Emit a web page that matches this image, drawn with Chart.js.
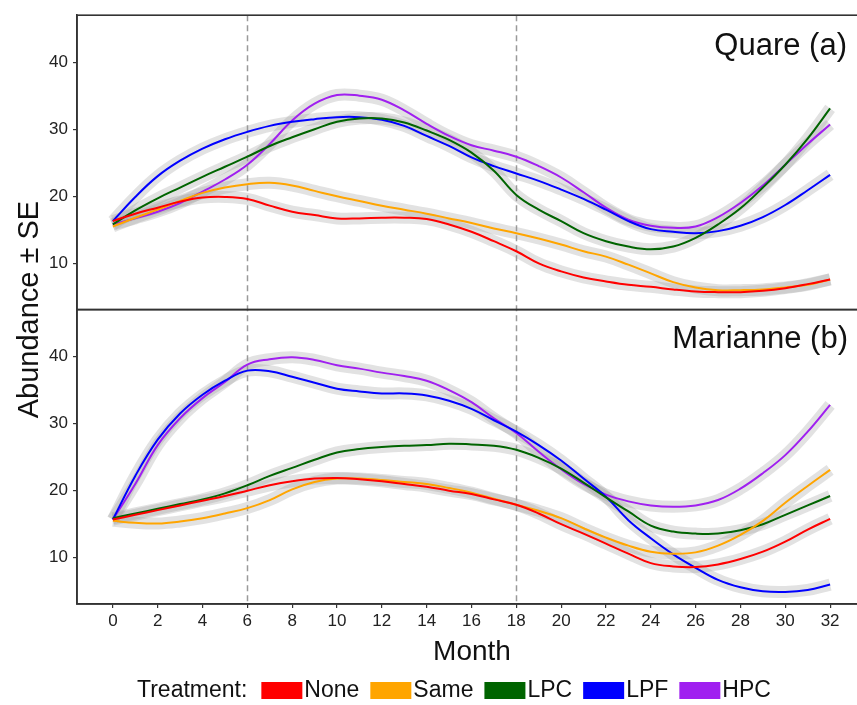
<!DOCTYPE html>
<html>
<head>
<meta charset="utf-8">
<script src="https://cdn.jsdelivr.net/npm/chart.js@4.4.1/dist/chart.umd.min.js"></script>
<style>
  html, body { margin: 0; padding: 0; background: #fff; }
</style>
</head>
<body>
<canvas id="chart" width="857" height="705"></canvas>
<script>
// months sampled along the smoothed curves
const months = [0, 1, 2, 3, 4, 5, 6, 7, 8, 9, 10, 11, 12, 13, 14, 15, 16,
                17, 18, 19, 20, 21, 22, 23, 24, 25, 26, 27, 28, 29, 30, 31, 32];
const xTicks = [0, 2, 4, 6, 8, 10, 12, 14, 16, 18, 20, 22, 24, 26, 28, 30, 32];
const yTicks = [10, 20, 30, 40];
const periodBreaks = [6, 18];

const treatments = ['None', 'Same', 'LPC', 'LPF', 'HPC'];
const colors = ['#FF0000', '#FFA500', '#006400', '#0000FF', '#A020F0'];
const siteNames = ['Quare (a)', 'Marianne (b)'];

// Quare (a)
const quareNone = [16.3, 17.4, 18.3, 19.2, 19.8, 19.9, 19.6, 18.6, 17.7, 17.2, 16.7, 16.7, 16.8, 16.8, 16.6, 15.8, 14.7,
                   13.3, 11.8, 10.0, 8.8, 7.9, 7.3, 6.8, 6.5, 6.1, 5.8, 5.7, 5.7, 5.9, 6.3, 6.9, 7.6];
const quareSame = [15.5, 16.8, 18.0, 19.3, 20.5, 21.3, 21.8, 22.0, 21.6, 20.8, 20.0, 19.3, 18.6, 18.0, 17.4, 16.7, 16.0,
                   15.2, 14.5, 13.7, 12.8, 11.8, 11.0, 9.8, 8.5, 7.2, 6.4, 6.0, 6.0, 6.1, 6.4, 6.8, 7.6];
const quareLPC = [15.8, 17.9, 19.7, 21.3, 22.9, 24.4, 25.9, 27.5, 28.8, 30.0, 31.1, 31.6, 31.6, 31.0, 29.8, 28.4, 26.5,
                  23.8, 20.2, 18.0, 16.3, 14.5, 13.3, 12.5, 12.1, 12.5, 13.8, 15.8, 18.2, 21.3, 24.7, 28.6, 33.1];
const quareLPF = [16.3, 19.9, 23.0, 25.3, 27.1, 28.5, 29.6, 30.5, 31.1, 31.5, 31.8, 31.8, 31.4, 30.5, 29.0, 27.5, 25.8,
                  24.5, 23.4, 22.3, 21.0, 19.6, 18.0, 16.3, 15.1, 14.7, 14.5, 14.8, 15.6, 16.9, 18.7, 20.9, 23.2];
const quareHPC = [15.8, 16.7, 17.7, 19.0, 20.7, 22.5, 24.7, 27.8, 31.3, 33.8, 35.1, 35.0, 34.4, 32.8, 30.8, 29.0, 27.6,
                  26.8, 25.9, 24.5, 22.8, 20.6, 18.3, 16.5, 15.6, 15.3, 15.5, 16.9, 19.0, 21.6, 24.7, 27.8, 30.7];

// Marianne (b)
const marianneNone = [15.7, 16.4, 17.1, 17.8, 18.5, 19.2, 20.0, 20.8, 21.4, 21.8, 21.9, 21.7, 21.4, 21.0, 20.6, 20.0, 19.5,
                      18.7, 17.9, 16.6, 15.0, 13.6, 12.1, 10.6, 9.2, 8.7, 8.6, 9.0, 9.8, 10.9, 12.4, 14.2, 15.8];
const marianneSame = [15.5, 15.2, 15.1, 15.4, 15.9, 16.6, 17.4, 18.6, 20.2, 21.3, 21.8, 21.8, 21.6, 21.3, 21.0, 20.4, 19.7,
                      18.8, 17.9, 17.0, 15.9, 14.4, 13.0, 11.8, 10.9, 10.6, 10.8, 11.8, 13.4, 15.5, 18.2, 20.7, 23.1];
const marianneLPC = [15.9, 16.6, 17.3, 18.0, 18.7, 19.6, 20.8, 22.2, 23.4, 24.6, 25.7, 26.2, 26.5, 26.7, 26.8, 27.0, 26.9,
                     26.7, 26.1, 24.9, 23.3, 21.2, 19.0, 16.9, 14.8, 13.9, 13.6, 13.6, 14.1, 15.0, 16.4, 17.8, 19.2];
const marianneLPF = [15.7, 22.2, 27.6, 31.5, 34.3, 36.4, 37.9, 37.8, 37.0, 36.1, 35.2, 34.8, 34.5, 34.5, 34.2, 33.4, 32.2,
                     30.5, 28.8, 26.8, 24.5, 21.8, 19.1, 15.6, 12.9, 10.5, 8.5, 6.7, 5.6, 5.0, 4.9, 5.2, 6.0];
const marianneHPC = [15.7, 21.0, 26.8, 30.8, 33.8, 36.2, 38.8, 39.6, 39.9, 39.5, 38.7, 38.2, 37.6, 37.1, 36.4, 35.0, 33.2,
                     30.8, 28.6, 25.8, 23.2, 21.0, 19.4, 18.4, 17.8, 17.6, 17.8, 18.6, 20.3, 22.6, 25.3, 28.8, 32.8];

const FONT = '"Liberation Sans", Arial, Helvetica, sans-serif';
Chart.defaults.font.family = FONT;

const panels = [
    {axis: 'yTop', series: [quareNone, quareSame, quareLPC, quareLPF, quareHPC]},
    {axis: 'yBot', series: [marianneNone, marianneSame, marianneLPC, marianneLPF, marianneHPC]},
];

const toPoints = (vals) => months.map((m, i) => ({x: m, y: vals[i]}));

const datasets = [];
panels.forEach(panel => {
    panel.series.forEach((vals, i) => {
        // grey SE band underneath
        datasets.push({
            label: treatments[i] + ' SE',
            data: toPoints(vals),
            yAxisID: panel.axis,
            borderColor: 'rgba(150,150,150,0.28)',
            borderWidth: 12,
            borderCapStyle: 'butt',
            pointRadius: 0,
            tension: 0.4,
            order: 2,
        });
        datasets.push({
            label: treatments[i],
            data: toPoints(vals),
            yAxisID: panel.axis,
            borderColor: colors[i],
            borderWidth: 2,
            pointRadius: 0,
            tension: 0.4,
            order: 1,
        });
    });
});

const axisColor = '#333333';

const yAxis = () => ({
    type: 'linear',
    position: 'left',
    stack: 'panels',
    stackWeight: 1,
    min: 3.1,
    max: 47,
    afterBuildTicks: (s) => { s.ticks = yTicks.map(v => ({value: v})); },
    afterFit: (s) => { s.width = 77; },
    grid: {display: true, drawOnChartArea: false, drawTicks: true, tickLength: 4, color: axisColor, lineWidth: 1.2},
    border: {display: true, color: axisColor, width: 1.6},
    ticks: {font: {size: 17}, color: '#222', padding: 5},
});

const decorations = {
    id: 'decorations',
    beforeDatasetsDraw(chart) {
        const {ctx, chartArea, scales} = chart;
        ctx.save();
        ctx.strokeStyle = '#9a9a9a';
        ctx.lineWidth = 1.5;
        ctx.setLineDash([6, 4]);
        periodBreaks.forEach(m => {
            const px = Math.round(scales.x.getPixelForValue(m)) + 0.5;
            ctx.beginPath();
            ctx.moveTo(px, chartArea.top);
            ctx.lineTo(px, chartArea.bottom);
            ctx.stroke();
        });
        ctx.restore();
    },
    afterDraw(chart) {
        const {ctx, chartArea, scales} = chart;
        ctx.save();

        // panel frames
        ctx.strokeStyle = axisColor;
        ctx.lineWidth = 1.6;
        ['yTop', 'yBot'].forEach(id => {
            const s = scales[id];
            ctx.strokeRect(chartArea.left, s.top, chartArea.right - chartArea.left + 4, s.bottom - s.top);
        });

        // strip labels
        ctx.fillStyle = '#111';
        ctx.textAlign = 'right';
        ctx.textBaseline = 'alphabetic';
        ctx.font = '31px ' + FONT;
        ctx.fillText(siteNames[0], 847, scales.yTop.top + 40);
        ctx.fillText(siteNames[1], 848, scales.yBot.top + 38);

        // axis titles
        ctx.textAlign = 'center';
        ctx.textBaseline = 'middle';
        ctx.font = '28px ' + FONT;
        ctx.fillText('Month', 472, 652);
        ctx.save();
        ctx.translate(30, (chartArea.top + chartArea.bottom) / 2);
        ctx.rotate(-Math.PI / 2);
        ctx.font = '29px ' + FONT;
        ctx.fillText('Abundance \u00B1 SE', 0, 0);
        ctx.restore();

        // legend
        ctx.font = '23px ' + FONT;
        ctx.textAlign = 'left';
        ctx.textBaseline = 'middle';
        const ly = 691;
        let lx = 137;
        ctx.fillStyle = '#111';
        ctx.fillText('Treatment:', lx, ly);
        lx += ctx.measureText('Treatment:').width + 14;
        treatments.forEach((name, i) => {
            ctx.fillStyle = colors[i];
            ctx.fillRect(lx, ly - 9, 41, 17);
            lx += 43;
            ctx.fillStyle = '#111';
            ctx.fillText(name, lx, ly);
            lx += ctx.measureText(name).width + 11;
        });

        ctx.restore();
    }
};

new Chart(document.getElementById('chart'), {
    type: 'line',
    data: {datasets},
    options: {
        responsive: false,
        animation: false,
        layout: {padding: {top: 13, right: 0, bottom: 0, left: 0}},
        plugins: {legend: {display: false}, tooltip: {enabled: false}},
        scales: {
            x: {
                type: 'linear',
                min: -1.6,
                max: 33.2,
                afterBuildTicks: (s) => { s.ticks = xTicks.map(v => ({value: v})); },
                afterFit: (s) => { s.height = 101; },
                grid: {display: true, drawOnChartArea: false, drawTicks: true, tickLength: 4, color: axisColor, lineWidth: 1.2},
                border: {display: true, color: axisColor, width: 1.6},
                ticks: {font: {size: 17}, color: '#222', padding: 3, maxRotation: 0, autoSkip: false},
            },
            // left-stacked axes are placed last-defined on top, so the bottom panel comes first
            yBot: yAxis(),
            yTop: yAxis(),
        },
    },
    plugins: [decorations],
});
</script>
</body>
</html>
